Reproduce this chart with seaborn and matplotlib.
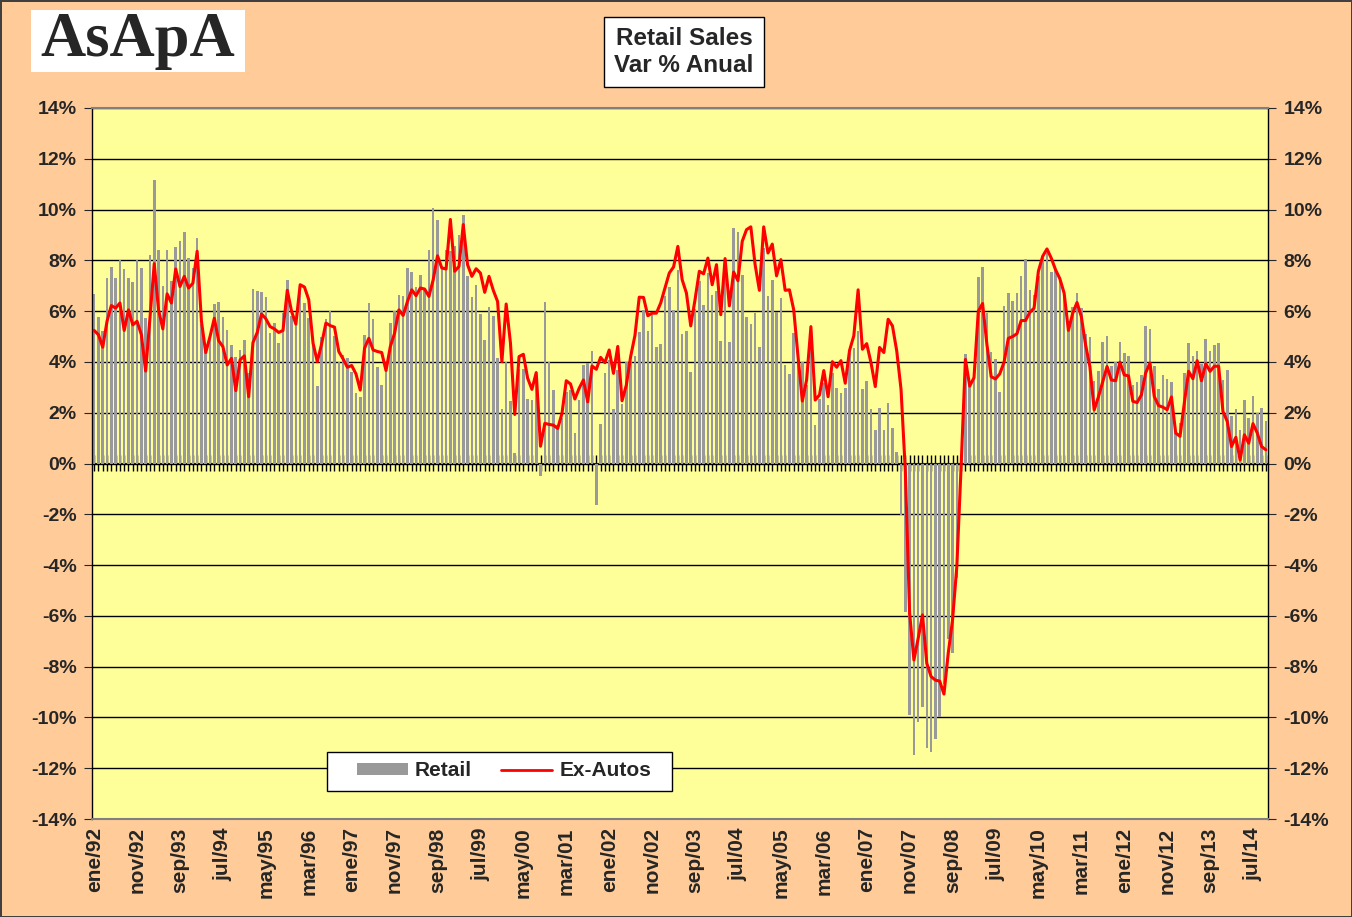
import numpy as np
import pandas as pd
import matplotlib
matplotlib.use("Agg")
import matplotlib.pyplot as plt
import seaborn as sns
from matplotlib.patches import Patch, Rectangle
from matplotlib.lines import Line2D
from matplotlib.ticker import FuncFormatter

# monthly % y/y change, ene/92 .. oct/14
retail = [
    6.68, 5.78, 5.22, 7.29, 7.74, 7.29, 8.03, 7.67, 7.32, 7.16, 8.03, 7.70,
    5.74, 8.22, 11.18, 8.41, 7.00, 8.41, 7.18, 8.54, 8.78, 9.10, 8.10, 7.68,
    8.88, 5.50, 4.50, 5.00, 6.30, 6.36, 5.78, 5.26, 4.66, 4.20, 4.47, 4.87,
    3.55, 6.87, 6.79, 6.75, 6.55, 5.13, 5.55, 4.75, 5.92, 7.21, 5.79, 5.53,
    7.00, 6.32, 5.74, 4.74, 3.05, 5.00, 5.70, 5.99, 5.04, 4.01, 4.28, 4.17,
    3.62, 2.79, 2.60, 5.07, 6.34, 5.70, 3.79, 3.09, 3.59, 5.53, 5.99, 6.64,
    6.58, 7.70, 7.54, 6.95, 7.43, 6.84, 8.42, 10.07, 9.57, 7.76, 8.42, 8.36,
    8.58, 9.01, 9.80, 7.37, 6.55, 7.04, 5.89, 4.87, 6.18, 5.79, 4.17, 2.14,
    4.01, 2.47, 0.43, 3.71, 3.72, 2.54, 2.50, 3.40, -0.50, 6.36, 3.99, 2.89,
    1.50, 1.80, 2.83, 2.89, 1.21, 2.50, 3.88, 3.95, 4.45, -1.65, 1.55, 3.55,
    4.08, 2.13, 3.68, 2.34, 3.99, 4.01, 4.24, 5.17, 6.05, 5.22, 5.83, 4.58,
    4.71, 6.58, 6.95, 6.05, 7.63, 5.11, 5.20, 3.62, 6.08, 7.17, 6.24, 7.50,
    6.62, 6.78, 4.83, 7.90, 4.80, 9.28, 9.12, 7.41, 5.76, 5.49, 5.92, 4.57,
    8.49, 6.58, 7.21, 5.95, 6.51, 3.86, 3.53, 5.13, 4.41, 4.01, 3.10, 4.60,
    1.51, 2.54, 3.16, 2.30, 3.55, 2.96, 2.79, 2.99, 4.37, 4.54, 5.22, 2.92,
    3.25, 2.13, 1.30, 2.17, 1.32, 2.39, 1.41, 0.46, -2.01, -5.83, -9.91, -11.49,
    -10.17, -9.58, -11.22, -11.36, -10.83, -9.97, -8.70, -6.90, -7.47, -4.50, -0.50, 4.30,
    3.05, 3.40, 7.35, 7.75, 5.92, 4.38, 4.12, 2.80, 6.21, 6.71, 6.41, 6.71,
    7.39, 8.05, 6.82, 6.64, 7.40, 8.10, 8.29, 7.53, 7.66, 7.20, 6.78, 5.60,
    6.16, 6.71, 6.12, 5.11, 4.97, 3.25, 3.64, 4.78, 5.03, 3.82, 4.01, 4.78,
    4.34, 4.25, 3.10, 3.20, 3.50, 5.43, 5.30, 3.83, 2.93, 3.50, 3.34, 3.21,
    1.20, 1.59, 3.57, 4.75, 4.22, 4.42, 3.93, 4.91, 4.42, 4.68, 4.75, 3.30,
    3.67, 1.86, 2.14, 1.30, 2.49, 1.79, 2.64, 1.99, 2.18, 1.66,
]

ex_autos = [
    5.24, 5.07, 4.58, 5.60, 6.22, 6.12, 6.32, 5.24, 6.05, 5.46, 5.60, 5.07,
    3.64, 5.72, 7.87, 6.05, 5.30, 6.68, 6.32, 7.66, 6.97, 7.37, 6.91, 7.10,
    8.36, 5.60, 4.37, 5.00, 5.72, 4.84, 4.60, 3.88, 4.14, 2.87, 4.08, 4.24,
    2.63, 4.76, 5.16, 5.89, 5.70, 5.39, 5.30, 5.16, 5.24, 6.82, 5.99, 5.49,
    7.04, 6.95, 6.45, 4.74, 4.01, 4.71, 5.53, 5.43, 5.37, 4.41, 4.12, 3.79,
    3.86, 3.53, 2.89, 4.54, 4.93, 4.47, 4.41, 4.37, 3.66, 4.60, 5.13, 6.05,
    5.83, 6.38, 6.84, 6.61, 6.91, 6.87, 6.58, 7.24, 8.18, 7.70, 7.66, 9.61,
    7.57, 7.76, 9.41, 7.83, 7.37, 7.67, 7.50, 6.74, 7.37, 6.82, 6.38, 4.01,
    6.28, 4.74, 1.93, 4.21, 4.30, 3.36, 2.92, 3.58, 0.68, 1.58, 1.54, 1.51,
    1.38, 1.97, 3.26, 3.13, 2.54, 2.96, 3.29, 2.43, 3.84, 3.71, 4.18, 3.97,
    4.47, 3.55, 4.61, 2.47, 3.09, 4.21, 5.04, 6.55, 6.54, 5.82, 5.92, 5.92,
    6.32, 6.91, 7.50, 7.74, 8.55, 7.24, 6.71, 5.42, 6.45, 7.57, 7.47, 8.09,
    7.04, 7.83, 5.86, 8.07, 6.21, 7.54, 7.20, 8.75, 9.21, 9.32, 7.83, 6.82,
    9.32, 8.29, 8.64, 7.39, 8.03, 6.82, 6.84, 6.05, 4.21, 2.46, 3.29, 5.39,
    2.50, 2.70, 3.66, 2.63, 4.01, 3.79, 4.05, 3.16, 4.45, 5.03, 6.84, 4.50,
    4.72, 3.97, 3.03, 4.57, 4.37, 5.68, 5.42, 4.43, 2.92, -0.30, -5.89, -7.74,
    -6.88, -5.96, -7.87, -8.39, -8.53, -8.57, -9.08, -7.47, -6.16, -4.05, -0.10, 4.10,
    3.05, 3.38, 6.00, 6.30, 4.70, 3.42, 3.33, 3.53, 3.99, 4.93, 5.00, 5.11,
    5.63, 5.63, 5.95, 6.12, 7.57, 8.16, 8.45, 8.09, 7.63, 7.28, 6.71, 5.24,
    5.92, 6.34, 5.79, 4.67, 3.82, 2.11, 2.63, 3.22, 3.82, 3.29, 3.26, 3.99,
    3.49, 3.45, 2.45, 2.40, 2.70, 3.57, 3.96, 2.64, 2.28, 2.22, 2.12, 2.62,
    1.20, 1.07, 2.38, 3.63, 3.34, 4.05, 3.26, 3.93, 3.63, 3.83, 3.83, 2.05,
    1.66, 0.67, 1.03, 0.14, 1.13, 0.80, 1.57, 1.20, 0.67, 0.54,
]

tick_labels = [
    "ene/92", "nov/92", "sep/93", "jul/94", "may/95", "mar/96", "ene/97",
    "nov/97", "sep/98", "jul/99", "may/00", "mar/01", "ene/02", "nov/02",
    "sep/03", "jul/04", "may/05", "mar/06", "ene/07", "nov/07", "sep/08",
    "jul/09", "may/10", "mar/11", "ene/12", "nov/12", "sep/13", "jul/14",
]
label_step = 10

BG = "#FFCC99"
PLOT_BG = "#FFFF99"
BAR = "#999999"

sns.set_style("white")
plt.rcParams["font.family"] = ["Liberation Sans", "DejaVu Sans"]
plt.rcParams["font.weight"] = "bold"

n = len(retail)
df = pd.DataFrame({"idx": np.arange(n), "retail": retail, "ex_autos": ex_autos})

fig = plt.figure(figsize=(13.52, 9.17), dpi=100, facecolor=BG)
fig.patch.set_edgecolor("#404040")
fig.patch.set_linewidth(2)
ax = fig.add_axes([92 / 1352, 1 - 819 / 917, 1176 / 1352, 711 / 917])
ax.set_facecolor(PLOT_BG)

sns.barplot(data=df, x="idx", y="retail", native_scale=True, color=BAR,
            saturation=1, width=0.6, linewidth=0, ax=ax, zorder=2)
sns.lineplot(data=df, x="idx", y="ex_autos", color="red", linewidth=2.2,
             ax=ax, zorder=4)

ax.set_xlim(-0.5, n - 0.5)
ax.set_ylim(-14, 14)
ax.set_yticks(np.arange(-14, 15, 2))
ax.yaxis.set_major_formatter(FuncFormatter(lambda v, _: f"{v:.0f}%"))
ax.yaxis.grid(True, color="black", linewidth=1)
ax.set_axisbelow(True)
ax.tick_params(axis="y", direction="out", length=6, left=True, right=True,
               labelleft=True, labelright=True, labelsize=14, pad=5)

ax.set_xticks(np.arange(0, n, label_step)[:len(tick_labels)])
ax.set_xticklabels(tick_labels, rotation=90, fontsize=15, fontweight="bold")
ax.tick_params(axis="x", length=0, pad=6)
ax.set_xlabel("")
ax.set_ylabel("")

for side in ["left", "right"]:
    ax.spines[side].set_color("black")
    ax.spines[side].set_linewidth(1)
for side in ["top", "bottom"]:
    ax.spines[side].set_color("#808080")
    ax.spines[side].set_linewidth(1.5)

# category axis crossing at 0%, a tick per month
zero_ax = ax.secondary_xaxis(0.5)
zero_ax.set_xticks(np.arange(n))
zero_ax.set_xticklabels([])
zero_ax.tick_params(axis="x", direction="inout", length=12, width=1, color="black")
zero_ax.spines["bottom"].set_color("black")

# legend box drawn separately so it can be wider than its content
ax.add_patch(Rectangle((235 / 1176, 28 / 711), 345 / 1176, 39 / 711,
                       transform=ax.transAxes, facecolor="white",
                       edgecolor="black", linewidth=1, zorder=9))
handles = [Patch(facecolor=BAR, edgecolor="none", label="Retail"),
           Line2D([], [], color="red", linewidth=2, label="Ex-Autos")]
leg = ax.legend(handles=handles, loc="center", bbox_to_anchor=(412 / 1176, 48 / 711),
                ncol=2, frameon=False, prop={"weight": "bold", "size": 15},
                handlelength=2.45, handleheight=0.5, columnspacing=1.4,
                handletextpad=0.35, borderpad=0.2)
leg.set_zorder(10)

fig.text(684 / 1352, 1 - 52 / 917, "Retail Sales\nVar % Anual", ha="center",
         va="center", fontsize=17.5, fontweight="bold", linespacing=1.2,
         bbox=dict(boxstyle="square,pad=0.42", fc="white", ec="black", lw=1))

fig.patches.append(Rectangle((31 / 1352, 1 - 72 / 917), 214 / 1352, 62 / 917,
                             transform=fig.transFigure, facecolor="white",
                             edgecolor="none"))
fig.text(138 / 1352, 1 - 41 / 917, "AsApA", ha="center", va="center",
         fontsize=45, fontweight="bold", family=["Liberation Serif", "DejaVu Serif"])

fig.savefig("out.png", dpi=100, facecolor=BG, edgecolor=fig.patch.get_edgecolor())
